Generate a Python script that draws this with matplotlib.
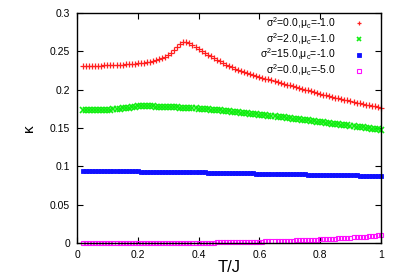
import matplotlib
matplotlib.use("Agg")
import matplotlib.pyplot as plt
import numpy as np
from matplotlib.ticker import FuncFormatter, MultipleLocator

plt.rcParams["font.family"] = ["Liberation Sans", "DejaVu Sans"]
plt.rcParams["mathtext.fontset"] = "custom"
plt.rcParams["mathtext.rm"] = "Liberation Sans"
plt.rcParams["mathtext.it"] = "Liberation Sans"

# temperature grid, T/J = 0.02 ... 1.00
t_vals = np.round(np.arange(2, 101) / 100.0, 2)

kappa_s0_mu1 = [
    0.2312, 0.2312, 0.2313, 0.2313, 0.2314, 0.2315, 0.2316, 0.2317, 0.2318, 0.2320,
    0.2322, 0.2324, 0.2326, 0.2328, 0.2330, 0.2333, 0.2336, 0.2340, 0.2344, 0.2348,
    0.2353, 0.2359, 0.2366, 0.2374, 0.2384, 0.2396, 0.2410, 0.2428, 0.2450, 0.2478,
    0.2515, 0.2560, 0.2602, 0.2624, 0.2622, 0.2604, 0.2582, 0.2557, 0.2532, 0.2507,
    0.2483, 0.2459, 0.2436, 0.2413, 0.2391, 0.2369, 0.2348, 0.2328, 0.2309, 0.2291,
    0.2274, 0.2258, 0.2243, 0.2229, 0.2216, 0.2203, 0.2191, 0.2179, 0.2167, 0.2156,
    0.2145, 0.2134, 0.2123, 0.2112, 0.2101, 0.2090, 0.2079, 0.2068, 0.2057, 0.2046,
    0.2035, 0.2024, 0.2013, 0.2002, 0.1991, 0.1980, 0.1969, 0.1958, 0.1947, 0.1937,
    0.1927, 0.1917, 0.1907, 0.1897, 0.1887, 0.1878, 0.1869, 0.1860, 0.1851, 0.1842,
    0.1833, 0.1824, 0.1815, 0.1806, 0.1798, 0.1790, 0.1782, 0.1774, 0.1766,
]

kappa_s2_mu1 = [
    0.1735, 0.1735, 0.1736, 0.1736, 0.1737, 0.1737, 0.1738, 0.1739, 0.1740, 0.1742,
    0.1744, 0.1747, 0.1751, 0.1756, 0.1762, 0.1768, 0.1774, 0.1779, 0.1783, 0.1785,
    0.1786, 0.1785, 0.1784, 0.1782, 0.1781, 0.1779, 0.1778, 0.1776, 0.1775, 0.1773,
    0.1771, 0.1770, 0.1768, 0.1766, 0.1764, 0.1762, 0.1759, 0.1757, 0.1754, 0.1751,
    0.1748, 0.1745, 0.1742, 0.1738, 0.1735, 0.1731, 0.1727, 0.1723, 0.1719, 0.1715,
    0.1711, 0.1707, 0.1703, 0.1698, 0.1694, 0.1690, 0.1685, 0.1681, 0.1676, 0.1672,
    0.1667, 0.1663, 0.1658, 0.1653, 0.1649, 0.1644, 0.1639, 0.1634, 0.1629, 0.1624,
    0.1619, 0.1614, 0.1609, 0.1604, 0.1599, 0.1594, 0.1589, 0.1584, 0.1579, 0.1574,
    0.1569, 0.1564, 0.1559, 0.1554, 0.1549, 0.1544, 0.1539, 0.1534, 0.1529, 0.1524,
    0.1519, 0.1514, 0.1509, 0.1504, 0.1499, 0.1494, 0.1489, 0.1484, 0.1479,
]

kappa_s15_mu1 = [
    0.0941, 0.0937, 0.0940, 0.0936, 0.0939, 0.0938, 0.0938, 0.0937, 0.0937, 0.0937,
    0.0936, 0.0936, 0.0936, 0.0935, 0.0935, 0.0935, 0.0934, 0.0934, 0.0934, 0.0933,
    0.0933, 0.0933, 0.0932, 0.0932, 0.0932, 0.0931, 0.0931, 0.0931, 0.0930, 0.0929,
    0.0929, 0.0928, 0.0927, 0.0926, 0.0925, 0.0925, 0.0924, 0.0923, 0.0922, 0.0921,
    0.0921, 0.0920, 0.0919, 0.0918, 0.0917, 0.0917, 0.0916, 0.0915, 0.0914, 0.0913,
    0.0913, 0.0912, 0.0911, 0.0910, 0.0909, 0.0909, 0.0908, 0.0907, 0.0906, 0.0905,
    0.0905, 0.0904, 0.0903, 0.0902, 0.0901, 0.0901, 0.0900, 0.0899, 0.0898, 0.0897,
    0.0897, 0.0896, 0.0895, 0.0894, 0.0893, 0.0893, 0.0892, 0.0891, 0.0890, 0.0889,
    0.0889, 0.0888, 0.0887, 0.0886, 0.0885, 0.0885, 0.0884, 0.0883, 0.0882, 0.0881,
    0.0881, 0.0880, 0.0879, 0.0878, 0.0877, 0.0877, 0.0876, 0.0875, 0.0874,
]

kappa_s0_mu5 = [
    0.0000, 0.0000, 0.0000, 0.0000, 0.0000, 0.0000, 0.0000, 0.0000, 0.0000, 0.0000,
    0.0000, 0.0000, 0.0000, 0.0000, 0.0000, 0.0000, 0.0000, 0.0000, 0.0000, 0.0000,
    0.0000, 0.0000, 0.0000, 0.0000, 0.0000, 0.0001, 0.0001, 0.0001, 0.0001, 0.0001,
    0.0001, 0.0002, 0.0002, 0.0002, 0.0002, 0.0003, 0.0003, 0.0003, 0.0004, 0.0004,
    0.0005, 0.0005, 0.0006, 0.0006, 0.0007, 0.0007, 0.0008, 0.0009, 0.0009, 0.0010,
    0.0011, 0.0012, 0.0012, 0.0013, 0.0014, 0.0015, 0.0016, 0.0017, 0.0018, 0.0019,
    0.0020, 0.0021, 0.0022, 0.0023, 0.0025, 0.0026, 0.0027, 0.0029, 0.0030, 0.0032,
    0.0033, 0.0035, 0.0036, 0.0038, 0.0040, 0.0042, 0.0043, 0.0045, 0.0047, 0.0049,
    0.0051, 0.0053, 0.0055, 0.0057, 0.0060, 0.0062, 0.0064, 0.0067, 0.0069, 0.0072,
    0.0075, 0.0078, 0.0081, 0.0084, 0.0087, 0.0090, 0.0094, 0.0098, 0.0102,
]

labels = [
    "σ$^2$=0.0,μ$_c$=-1.0",
    "σ$^2$=2.0,μ$_c$=-1.0",
    "σ$^2$=15.0,μ$_c$=-1.0",
    "σ$^2$=0.0,μ$_c$=-5.0",
]

fig = plt.figure(figsize=(3.98, 2.79), dpi=100)
ax = fig.add_axes([0.1935, 0.129, 0.7635, 0.824])

ax.plot(t_vals, kappa_s0_mu1, ls="none", marker="+", ms=5, mew=0.9,
        color="#ff2020", label=labels[0], clip_on=False)
ax.plot(t_vals, kappa_s2_mu1, ls="none", marker="x", ms=4, mew=1.2,
        color="#10ee10", label=labels[1], clip_on=False)
ax.plot(t_vals, kappa_s15_mu1, ls="none", marker="s", ms=3.0, mew=0.6,
        color="#1010ff", label=labels[2], clip_on=False)
ax.plot(t_vals, kappa_s0_mu5, ls="none", marker="s", ms=3.4, mew=0.8,
        color="#ff10ff", mfc="none", label=labels[3], clip_on=False)

ax.set_xlim(0, 1)
ax.set_ylim(0, 0.3)
ax.xaxis.set_major_locator(MultipleLocator(0.2))
ax.yaxis.set_major_locator(MultipleLocator(0.05))
fmt = FuncFormatter(lambda v, p: "%g" % round(v, 4))
ax.xaxis.set_major_formatter(fmt)
ax.yaxis.set_major_formatter(fmt)
ax.tick_params(direction="in", length=4, width=0.8, top=True, right=True,
               labelsize=7.5, pad=5)
for s in ax.spines.values():
    s.set_linewidth(1.0)

ax.set_xlabel("T/J", fontsize=12, labelpad=0)
ax.set_ylabel("κ", fontsize=11, labelpad=10)

leg = ax.legend(loc="upper right", frameon=False, markerfirst=False,
                fontsize=7.5, handlelength=1.0, handletextpad=1.8,
                labelspacing=0.0, borderaxespad=0.0,
                bbox_to_anchor=(0.96, 1.01))
for h in leg.legend_handles:
    h.set_markersize(3)

fig.savefig("out.png", dpi=100)
